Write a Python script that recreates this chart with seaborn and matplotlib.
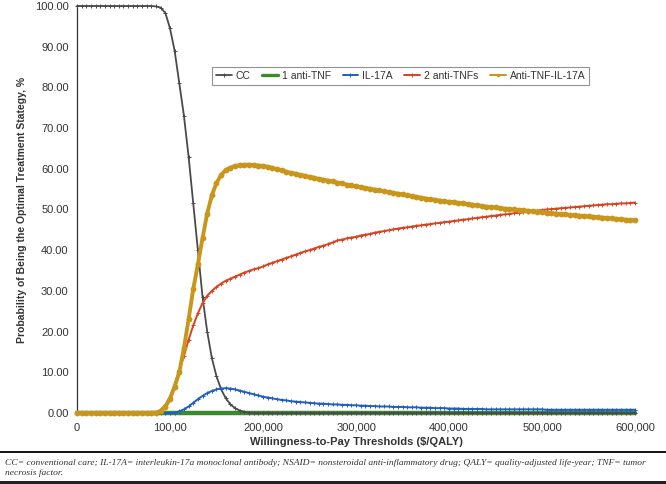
import numpy as np
import pandas as pd
import seaborn as sns
import matplotlib.pyplot as plt
from matplotlib.lines import Line2D
from matplotlib.patches import Rectangle

# willingness-to-pay thresholds, $/QALY
thresholds = list(range(0, 600001, 5000))

cc = [
    100, 100, 100, 100, 100, 100, 100, 100, 100, 100,
    100, 100, 100, 100, 100, 100, 100, 99.9, 99.6, 98.3,
    94.5, 89.0, 81.0, 73.0, 63.0, 51.5, 40.0, 28.5, 20.0, 13.5,
    9.0, 5.8, 3.6, 2.1, 1.2, 0.6, 0.3, 0.1, 0, 0,
    0, 0, 0, 0, 0, 0, 0, 0, 0, 0,
    0, 0, 0, 0, 0, 0, 0, 0, 0, 0,
    0, 0, 0, 0, 0, 0, 0, 0, 0, 0,
    0, 0, 0, 0, 0, 0, 0, 0, 0, 0,
    0, 0, 0, 0, 0, 0, 0, 0, 0, 0,
    0, 0, 0, 0, 0, 0, 0, 0, 0, 0,
    0, 0, 0, 0, 0, 0, 0, 0, 0, 0,
    0, 0, 0, 0, 0, 0, 0, 0, 0, 0,
    0,
]

one_anti_tnf = [
    0, 0, 0, 0, 0, 0, 0, 0, 0, 0,
    0, 0, 0, 0, 0, 0, 0, 0, 0, 0,
    0, 0, 0, 0, 0, 0, 0, 0, 0, 0,
    0, 0, 0, 0, 0, 0, 0, 0, 0, 0,
    0, 0, 0, 0, 0, 0, 0, 0, 0, 0,
    0, 0, 0, 0, 0, 0, 0, 0, 0, 0,
    0, 0, 0, 0, 0, 0, 0, 0, 0, 0,
    0, 0, 0, 0, 0, 0, 0, 0, 0, 0,
    0, 0, 0, 0, 0, 0, 0, 0, 0, 0,
    0, 0, 0, 0, 0, 0, 0, 0, 0, 0,
    0, 0, 0, 0, 0, 0, 0, 0, 0, 0,
    0, 0, 0, 0, 0, 0, 0, 0, 0, 0,
    0,
]

il17a = [
    0, 0, 0, 0, 0, 0, 0, 0, 0, 0,
    0, 0, 0, 0, 0, 0, 0, 0, 0, 0,
    0, 0.1, 0.4, 0.9, 1.6, 2.5, 3.4, 4.2, 4.9, 5.4,
    5.8, 6.0, 6.1, 6.0, 5.8, 5.5, 5.2, 4.9, 4.6, 4.3,
    4.0, 3.8, 3.6, 3.4, 3.2, 3.1, 2.9, 2.8, 2.7, 2.6,
    2.5, 2.4, 2.3, 2.3, 2.2, 2.1, 2.1, 2.0, 2.0, 1.9,
    1.9, 1.8, 1.8, 1.7, 1.7, 1.6, 1.6, 1.6, 1.5, 1.5,
    1.5, 1.4, 1.4, 1.4, 1.3, 1.3, 1.3, 1.2, 1.2, 1.2,
    1.1, 1.1, 1.1, 1.0, 1.0, 1.0, 1.0, 1.0, 0.9, 0.9,
    0.9, 0.9, 0.9, 0.9, 0.9, 0.9, 0.9, 0.9, 0.9, 0.9,
    0.9, 0.8, 0.8, 0.8, 0.8, 0.8, 0.8, 0.8, 0.8, 0.8,
    0.8, 0.8, 0.8, 0.8, 0.8, 0.8, 0.8, 0.8, 0.8, 0.8,
    0.8,
]

two_anti_tnfs = [
    0, 0, 0, 0, 0, 0, 0, 0, 0, 0,
    0, 0, 0, 0, 0, 0, 0, 0.1, 0.8, 2.0,
    4.0, 7.0, 10.5, 14.0, 18.0, 21.5, 24.5, 27.0, 28.8, 30.0,
    31.0, 31.8, 32.5, 33.0, 33.5, 34.0, 34.5, 34.9, 35.3, 35.6,
    36.0, 36.5, 36.9, 37.3, 37.7, 38.1, 38.5, 38.9, 39.3, 39.7,
    40.0, 40.4, 40.8, 41.1, 41.5, 41.9, 42.4, 42.6, 42.9, 43.1,
    43.3, 43.6, 43.8, 44.0, 44.3, 44.5, 44.7, 44.9, 45.1, 45.3,
    45.5, 45.6, 45.8, 46.0, 46.1, 46.3, 46.4, 46.6, 46.7, 46.9,
    47.0, 47.2, 47.3, 47.5, 47.6, 47.8, 47.9, 48.1, 48.2, 48.4,
    48.5, 48.7, 48.8, 48.9, 49.1, 49.2, 49.3, 49.5, 49.6, 49.7,
    49.9, 50.0, 50.1, 50.2, 50.3, 50.4, 50.5, 50.6, 50.7, 50.8,
    50.9, 51.0, 51.1, 51.2, 51.3, 51.3, 51.4, 51.5, 51.5, 51.6,
    51.7,
]

anti_tnf_il17a = [
    0, 0, 0, 0, 0, 0, 0, 0, 0, 0,
    0, 0, 0, 0, 0, 0, 0, 0.1, 0.5, 1.5,
    3.5, 6.5, 10.0, 16.0, 23.0, 30.5, 36.5, 43.0, 49.0, 53.5,
    56.5, 58.5, 59.7, 60.3, 60.7, 60.9, 61.0, 61.0, 60.9, 60.8,
    60.7, 60.5, 60.2, 59.9, 59.6, 59.3, 59.0, 58.8, 58.5, 58.3,
    58.0, 57.8, 57.5, 57.3, 57.1, 56.9, 56.6, 56.4, 56.1, 55.9,
    55.7, 55.5, 55.3, 55.1, 54.9, 54.7, 54.5, 54.3, 54.1, 53.9,
    53.7, 53.5, 53.3, 53.1, 52.9, 52.7, 52.5, 52.4, 52.2, 52.0,
    51.9, 51.8, 51.6, 51.5, 51.3, 51.2, 51.0, 50.9, 50.7, 50.6,
    50.5, 50.3, 50.2, 50.1, 50.0, 49.9, 49.8, 49.7, 49.6, 49.5,
    49.3, 49.2, 49.1, 49.0, 48.9, 48.8, 48.7, 48.6, 48.5, 48.4,
    48.3, 48.2, 48.1, 48.0, 47.9, 47.8, 47.7, 47.6, 47.5, 47.4,
    47.3,
]

x_ticks = [0, 100000, 200000, 300000, 400000, 500000, 600000]
x_tick_labels = ["0", "100,00", "200,000", "300,000", "400,000", "500,000", "600,000"]
y_ticks = [0, 10, 20, 30, 40, 50, 60, 70, 80, 90, 100]

footnote = ("CC= conventional care; IL-17A= interleukin-17a monoclonal antibody; "
            "NSAID= nonsteroidal anti-inflammatory drug; QALY= quality-adjusted life-year; TNF= tumor\n"
            "necrosis factor.")

sns.set_style("white")
plt.rcParams["font.family"] = ["Liberation Sans", "DejaVu Sans"]

fig = plt.figure(figsize=(6.66, 4.84), dpi=100)
ax = fig.add_axes([0.1156, 0.1467, 0.8379, 0.8409])

series = [
    ("1 anti-TNF", one_anti_tnf, "#3d8a2e", dict(linewidth=3.2, marker=None)),
    ("CC", cc, "#4a4a4a", dict(linewidth=1.3, marker="+", markersize=2.2, markeredgewidth=0.7)),
    ("IL-17A", il17a, "#1f5fc0", dict(linewidth=1.4, marker="+", markersize=2.2, markeredgewidth=0.7)),
    ("2 anti-TNFs", two_anti_tnfs, "#d9431f", dict(linewidth=1.4, marker="+", markersize=2.2, markeredgewidth=0.7)),
    ("Anti-TNF-IL-17A", anti_tnf_il17a, "#c9961c", dict(linewidth=2.8, marker="o", markersize=4.2, markeredgewidth=0)),
]

for name, vals, color, kw in series:
    df = pd.DataFrame({"wtp": thresholds, "prob": vals})
    sns.lineplot(data=df, x="wtp", y="prob", ax=ax, color=color, label=name,
                 linestyle="-", markeredgecolor=color, clip_on=False, zorder=3, **kw)

ax.set_xlim(0, 600000)
ax.set_ylim(0, 100)
ax.set_xticks(x_ticks)
ax.set_xticklabels(x_tick_labels)
ax.set_yticks(y_ticks)
ax.set_yticklabels([f"{v:.2f}" for v in y_ticks])
ax.tick_params(axis="both", direction="out", length=4, width=0.8, color="#333333",
               labelsize=8, labelcolor="#333333", pad=2)
ax.tick_params(axis="x", pad=3)
for side in ["top", "right"]:
    ax.spines[side].set_visible(False)
for side in ["left", "bottom"]:
    ax.spines[side].set_color("#333333")
    ax.spines[side].set_linewidth(0.9)

ax.set_xlabel("Willingness-to-Pay Thresholds ($/QALY)", fontsize=8, fontweight="bold",
              color="#333333", labelpad=3)
ax.set_ylabel("Probability of Being the Optimal Treatment Stategy, %", fontsize=7.5,
              fontweight="bold", color="#333333", labelpad=6)

handles, labels = ax.get_legend_handles_labels()
order = ["CC", "1 anti-TNF", "IL-17A", "2 anti-TNFs", "Anti-TNF-IL-17A"]
hmap = dict(zip(labels, handles))
leg = ax.legend([hmap[k] for k in order], order, loc="center", bbox_to_anchor=(0.58, 0.828),
                ncol=5, fontsize=7.5, frameon=True, fancybox=False, edgecolor="#777777",
                handlelength=1.5, handletextpad=0.4, columnspacing=1.1, borderpad=0.35)
leg.get_frame().set_linewidth(0.8)
for t in leg.get_texts():
    t.set_color("#333333")
for h in leg.legend_handles:
    h.set_markersize(min(h.get_markersize(), 2.5))
    h.set_linewidth(min(h.get_linewidth(), 2.4))
leg.legend_handles[-1].set_linewidth(1.4)

fig.add_artist(Line2D([0, 1], [0.066, 0.066], color="black", linewidth=1.3,
                      transform=fig.transFigure))
fig.text(0.008, 0.052, footnote, fontsize=6.8, style="italic", family="Liberation Serif",
         color="#333333", va="top", linespacing=1.3)
fig.add_artist(Rectangle((0, 0), 1, 0.007, transform=fig.transFigure,
                         facecolor="#222222", edgecolor="none"))

fig.savefig("out.png", dpi=100)
